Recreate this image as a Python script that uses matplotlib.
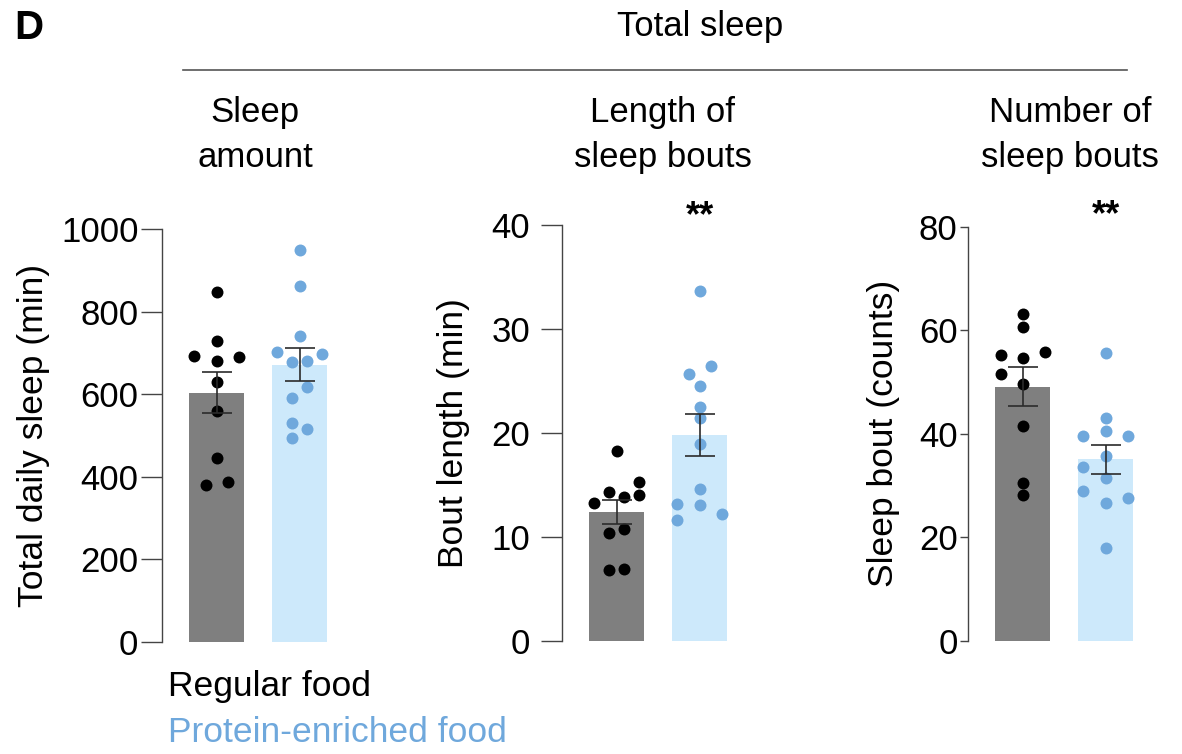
import matplotlib
matplotlib.use('Agg')
import matplotlib.pyplot as plt
import numpy as np

# values (one dot per animal)
groups = ['Regular food', 'Protein-enriched food']

sleep_regular = [847, 729, 693, 681, 689, 629, 559, 446, 380, 388]
sleep_protein = [948, 863, 740, 701, 697, 677, 681, 617, 592, 531, 516, 493]

bout_len_regular = [18.3, 15.3, 14.3, 13.8, 14.0, 13.3, 10.4, 10.8, 6.8, 6.9]
bout_len_protein = [33.7, 25.7, 26.4, 24.5, 22.5, 21.4, 18.9, 14.6, 13.2, 13.1, 12.2, 11.6]

bout_num_regular = [63.1, 60.7, 55.2, 54.6, 55.7, 51.6, 49.6, 41.5, 30.5, 28.1]
bout_num_protein = [55.6, 43.1, 40.6, 39.6, 39.6, 35.6, 33.6, 31.4, 29.0, 27.5, 26.6, 18.0]

# horizontal scatter of the dots (beeswarm columns)
dx_sleep_regular = [0, 0, -0.27, 0, 0.27, 0, 0, 0, -0.13, 0.13]
dx_sleep_protein = [0, 0, 0, -0.27, 0.27, -0.09, 0.09, 0.09, -0.09, -0.09, 0.09, -0.09]
dx_len_regular = [0, 0.27, -0.09, 0.09, 0.27, -0.27, -0.09, 0.09, -0.09, 0.09]
dx_len_protein = [0, -0.13, 0.13, 0, 0, 0, 0, 0, -0.27, 0, 0.27, -0.27]
dx_num_regular = [0, 0, -0.26, 0, 0.27, -0.26, 0, 0, 0, 0]
dx_num_protein = [0, 0, 0, -0.27, 0.27, 0, -0.27, 0, -0.27, 0.27, 0, 0]

W, H = 1182, 754

gray = '#7f7f7f'
light_blue = '#cde9fb'
dot_blue = '#6fa8dc'


def px(x, y):
    return x / W, 1 - y / H


def panel(ax, reg, pro, dx_r, dx_p, ymax, yticks, ylabel, label_x,
          tick_len, tick_pad, stars=None):
    means = [np.mean(reg), np.mean(pro)]
    sems = [np.std(reg, ddof=1) / np.sqrt(len(reg)),
            np.std(pro, ddof=1) / np.sqrt(len(pro))]

    ax.bar([0, 1], means, width=0.66, color=[gray, light_blue], zorder=1)
    ax.scatter(np.array(dx_r), reg, s=74, c='black', lw=0, zorder=3, clip_on=False)
    ax.scatter(1 + np.array(dx_p), pro, s=74, c=dot_blue, lw=0, zorder=3, clip_on=False)
    ax.errorbar([0, 1], means, yerr=sems, fmt='none', ecolor='#2b2b2b',
                elinewidth=1.2, capsize=10.5, capthick=1.2, zorder=4)

    ax.set_xlim(-0.66, 1.6)
    ax.set_ylim(0, ymax)
    ax.set_yticks(yticks)
    ax.set_xticks([])
    for s in ['top', 'right', 'bottom']:
        ax.spines[s].set_visible(False)
    ax.spines['left'].set_color('#444444')
    ax.spines['left'].set_linewidth(1.0)
    ax.tick_params(axis='y', length=tick_len, width=1.0, color='#444444',
                   pad=tick_pad, labelsize=25)
    ax.set_ylabel(ylabel, fontsize=25.5)
    ax.yaxis.set_label_coords(label_x, 0.5)

    if stars is not None:
        ax.text(1, stars, '**', ha='center', va='center', fontsize=26,
                fontweight='bold')


def main():
    plt.rcParams['font.family'] = ['Liberation Sans', 'DejaVu Sans']

    fig = plt.figure(figsize=(W / 100, H / 100), dpi=100)

    aw = 187.6 / W
    ax1 = fig.add_axes([162 / W, 1 - 642 / H, aw, 413 / H])
    ax2 = fig.add_axes([562 / W, 1 - 641 / H, aw, 416 / H])
    ax3 = fig.add_axes([968 / W, 1 - 640.7 / H, aw, 414 / H])

    panel(ax1, sleep_regular, sleep_protein, dx_sleep_regular, dx_sleep_protein,
          1000, [0, 200, 400, 600, 800, 1000], 'Total daily sleep (min)',
          -0.597, 15, 2)
    panel(ax2, bout_len_regular, bout_len_protein, dx_len_regular, dx_len_protein,
          40, [0, 10, 20, 30, 40], 'Bout length (min)',
          -0.49, 15, 8, stars=40.8)
    panel(ax3, bout_num_regular, bout_num_protein, dx_num_regular, dx_num_protein,
          80, [0, 20, 40, 60, 80], 'Sleep bout (counts)',
          -0.362, 6, 1.5, stars=82.1)

    # panel letter, header and bracket line
    fig.text(*px(14, 28), 'D', fontsize=29, fontweight='bold', va='center', ha='left')
    fig.text(*px(700, 36), 'Total sleep', fontsize=25, ha='center', va='baseline')
    fig.add_artist(plt.Line2D([183 / W, 1127 / W], [1 - 70 / H, 1 - 70 / H],
                              color='#555555', lw=1.2))

    titles = [(255, 'Sleep', 'amount'),
              (663, 'Length of', 'sleep bouts'),
              (1070, 'Number of', 'sleep bouts')]
    for x, l1, l2 in titles:
        fig.text(*px(x, 122), l1, fontsize=25, ha='center', va='baseline')
        fig.text(*px(x, 167), l2, fontsize=25, ha='center', va='baseline')

    # legend as coloured text
    fig.text(*px(168, 696), groups[0], fontsize=25.5, color='black', va='baseline')
    fig.text(*px(168, 742), groups[1], fontsize=25.5, color=dot_blue, va='baseline')

    fig.savefig('out.png', dpi=100)


if __name__ == '__main__':
    main()
